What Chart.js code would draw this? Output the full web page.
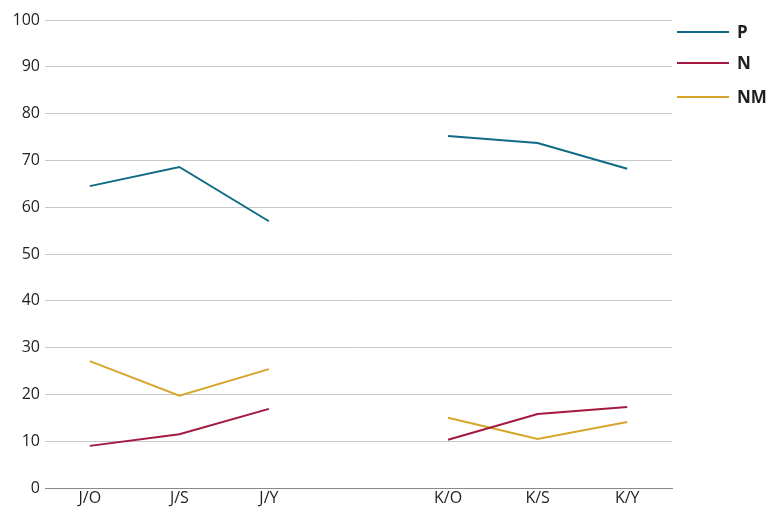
<!DOCTYPE html>
<html>
<head>
<meta charset="utf-8">
<script src="https://cdn.jsdelivr.net/npm/chart.js@4"></script>
<style>
  html, body { margin: 0; padding: 0; background: #fff; }
  #wrap { width: 771px; height: 510px; position: relative; }
</style>
</head>
<body>
<div id="wrap"><canvas id="chart"></canvas></div>
<script>
// categories (blank one keeps the gap between the two groups)
const categories = ['J/O', 'J/S', 'J/Y', '', 'K/O', 'K/S', 'K/Y'];

// series values
const pValues  = [64.5, 68.6, 57.0, null, 75.2, 73.7, 68.2];
const nValues  = [9.0, 11.5, 16.9, null, 10.3, 15.8, 17.3];
const nmValues = [27.1, 19.7, 25.4, null, 15.0, 10.5, 14.1];

const seriesNames = ['P', 'N', 'NM'];
const seriesColors = ['#0f6a86', '#a3183f', '#d6a629'];

const FONT = "'Open Sans', 'Noto Sans', sans-serif";

// draws the legend to the right of the plot, line + bold label
const sideLegend = {
    id: 'sideLegend',
    afterDraw(chart) {
        const ctx = chart.ctx;
        const rows = [32, 63, 97];
        ctx.save();
        chart.data.datasets.forEach((ds, i) => {
            ctx.strokeStyle = ds.borderColor;
            ctx.lineWidth = 2;
            ctx.beginPath();
            ctx.moveTo(677, rows[i]);
            ctx.lineTo(729, rows[i]);
            ctx.stroke();
            ctx.fillStyle = '#231f20';
            ctx.font = `bold 17px ${FONT}`;
            ctx.textBaseline = 'middle';
            ctx.textAlign = 'left';
            ctx.fillText(ds.label, 737, rows[i] + 1);
        });
        ctx.restore();
    }
};

const ctx = document.getElementById('chart').getContext('2d');
new Chart(ctx, {
    type: 'line',
    data: {
        labels: categories,
        datasets: [pValues, nValues, nmValues].map((vals, i) => ({
            label: seriesNames[i],
            data: vals,
            borderColor: seriesColors[i],
            backgroundColor: seriesColors[i],
            borderWidth: 2,
            pointRadius: 0,
            tension: 0,
            spanGaps: false
        }))
    },
    options: {
        responsive: true,
        maintainAspectRatio: false,
        animation: false,
        layout: { padding: { top: 20, right: 99, left: 0, bottom: 0 } },
        plugins: {
            legend: { display: false },
            tooltip: { enabled: false }
        },
        scales: {
            x: {
                offset: true,
                grid: { display: false, drawTicks: false },
                border: { display: true, color: '#8a8a8a', width: 1 },
                ticks: {
                    color: '#231f20',
                    font: { family: FONT, size: 16 },
                    padding: 1,
                    maxRotation: 0,
                    autoSkip: false
                },
                afterFit(scale) { scale.height = 22; }
            },
            y: {
                min: 0,
                max: 100,
                ticks: {
                    stepSize: 10,
                    color: '#231f20',
                    font: { family: FONT, size: 16 },
                    padding: 5
                },
                grid: { color: '#c8c8c8', lineWidth: 1, drawTicks: false },
                border: { display: false },
                afterFit(scale) { scale.width = 45; }
            }
        }
    },
    plugins: [sideLegend]
});
</script>
</body>
</html>
